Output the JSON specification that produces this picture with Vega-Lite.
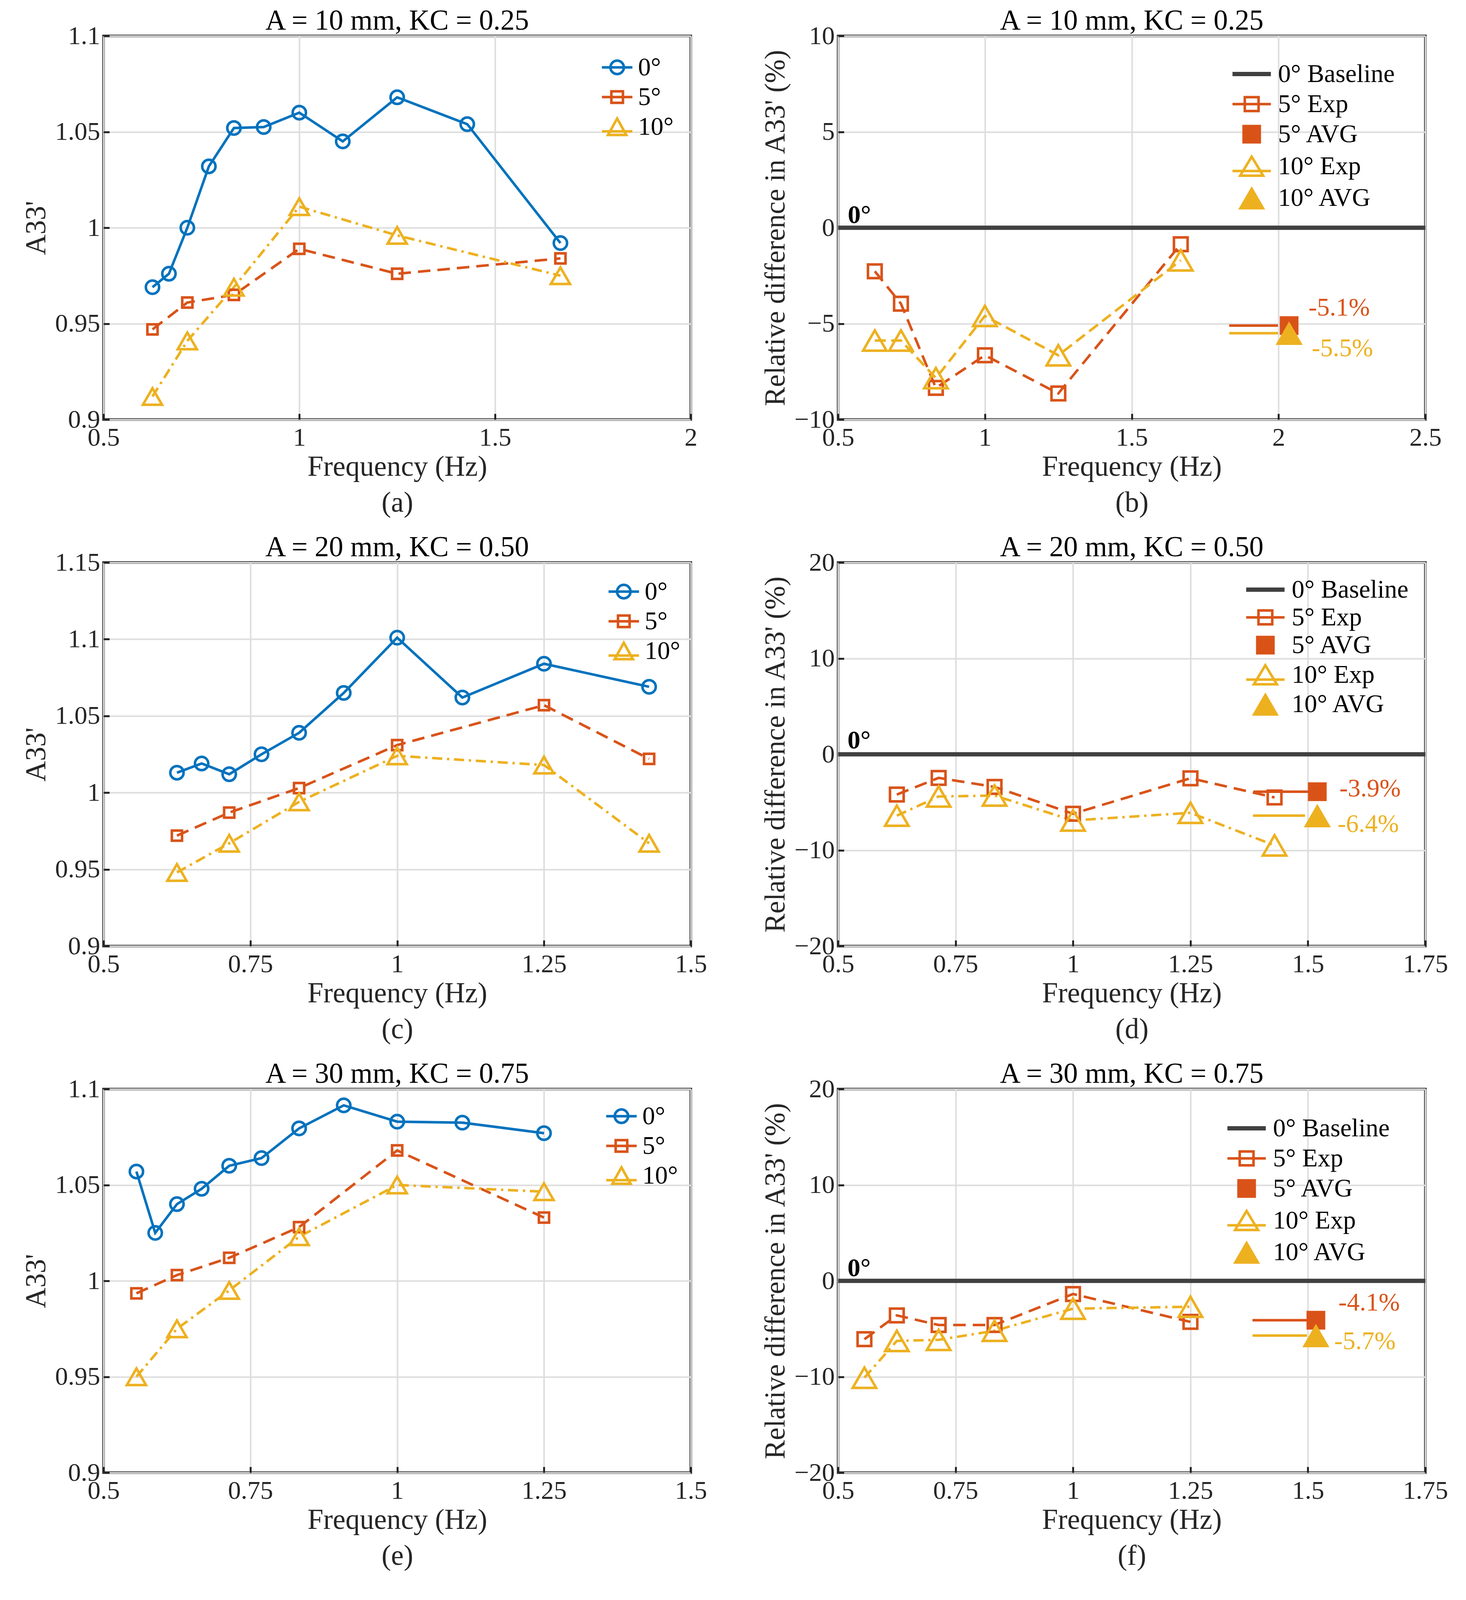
{
  "$schema": "https://vega.github.io/schema/vega-lite/v6.json",
  "background": "white",
  "padding": {"left": 54, "top": 14, "right": 30, "bottom": 20},
  "columns": 2,
  "spacing": {"row": 34, "column": 133},
  "resolve": {"scale": {"color": "independent"}, "legend": {"color": "independent"}},
  "datasets": {
    "a": [
      {"f": 0.625, "v": 0.969, "s": "0°"}, {"f": 0.667, "v": 0.976, "s": "0°"}, {"f": 0.714, "v": 1.0, "s": "0°"},
      {"f": 0.769, "v": 1.032, "s": "0°"}, {"f": 0.833, "v": 1.052, "s": "0°"}, {"f": 0.909, "v": 1.0525, "s": "0°"},
      {"f": 1.0, "v": 1.06, "s": "0°"}, {"f": 1.111, "v": 1.045, "s": "0°"}, {"f": 1.25, "v": 1.068, "s": "0°"},
      {"f": 1.429, "v": 1.054, "s": "0°"}, {"f": 1.667, "v": 0.992, "s": "0°"},
      {"f": 0.625, "v": 0.947, "s": "5°"}, {"f": 0.714, "v": 0.961, "s": "5°"}, {"f": 0.833, "v": 0.965, "s": "5°"},
      {"f": 1.0, "v": 0.989, "s": "5°"}, {"f": 1.25, "v": 0.976, "s": "5°"}, {"f": 1.667, "v": 0.984, "s": "5°"},
      {"f": 0.625, "v": 0.912, "s": "10°"}, {"f": 0.714, "v": 0.941, "s": "10°"}, {"f": 0.833, "v": 0.969, "s": "10°"},
      {"f": 1.0, "v": 1.011, "s": "10°"}, {"f": 1.25, "v": 0.996, "s": "10°"}, {"f": 1.667, "v": 0.975, "s": "10°"}
    ],
    "c": [
      {"f": 0.625, "v": 1.013, "s": "0°"}, {"f": 0.667, "v": 1.019, "s": "0°"}, {"f": 0.714, "v": 1.012, "s": "0°"},
      {"f": 0.769, "v": 1.025, "s": "0°"}, {"f": 0.833, "v": 1.039, "s": "0°"}, {"f": 0.909, "v": 1.065, "s": "0°"},
      {"f": 1.0, "v": 1.101, "s": "0°"}, {"f": 1.111, "v": 1.062, "s": "0°"}, {"f": 1.25, "v": 1.084, "s": "0°"},
      {"f": 1.429, "v": 1.069, "s": "0°"},
      {"f": 0.625, "v": 0.972, "s": "5°"}, {"f": 0.714, "v": 0.987, "s": "5°"}, {"f": 0.833, "v": 1.003, "s": "5°"},
      {"f": 1.0, "v": 1.031, "s": "5°"}, {"f": 1.25, "v": 1.057, "s": "5°"}, {"f": 1.429, "v": 1.022, "s": "5°"},
      {"f": 0.625, "v": 0.948, "s": "10°"}, {"f": 0.714, "v": 0.967, "s": "10°"}, {"f": 0.833, "v": 0.994, "s": "10°"},
      {"f": 1.0, "v": 1.024, "s": "10°"}, {"f": 1.25, "v": 1.018, "s": "10°"}, {"f": 1.429, "v": 0.967, "s": "10°"}
    ],
    "e": [
      {"f": 0.556, "v": 1.057, "s": "0°"}, {"f": 0.588, "v": 1.025, "s": "0°"}, {"f": 0.625, "v": 1.04, "s": "0°"},
      {"f": 0.667, "v": 1.048, "s": "0°"}, {"f": 0.714, "v": 1.06, "s": "0°"}, {"f": 0.769, "v": 1.064, "s": "0°"},
      {"f": 0.833, "v": 1.0795, "s": "0°"}, {"f": 0.909, "v": 1.0915, "s": "0°"}, {"f": 1.0, "v": 1.083, "s": "0°"},
      {"f": 1.111, "v": 1.0825, "s": "0°"}, {"f": 1.25, "v": 1.077, "s": "0°"},
      {"f": 0.556, "v": 0.9935, "s": "5°"}, {"f": 0.625, "v": 1.003, "s": "5°"}, {"f": 0.714, "v": 1.012, "s": "5°"},
      {"f": 0.833, "v": 1.028, "s": "5°"}, {"f": 1.0, "v": 1.068, "s": "5°"}, {"f": 1.25, "v": 1.033, "s": "5°"},
      {"f": 0.556, "v": 0.95, "s": "10°"}, {"f": 0.625, "v": 0.975, "s": "10°"}, {"f": 0.714, "v": 0.995, "s": "10°"},
      {"f": 0.833, "v": 1.023, "s": "10°"}, {"f": 1.0, "v": 1.05, "s": "10°"}, {"f": 1.25, "v": 1.0465, "s": "10°"}
    ],
    "b": [
      {"f": 0.625, "v": -2.27, "s": "5° Exp"}, {"f": 0.714, "v": -3.96, "s": "5° Exp"}, {"f": 0.833, "v": -8.35, "s": "5° Exp"},
      {"f": 1.0, "v": -6.65, "s": "5° Exp"}, {"f": 1.25, "v": -8.64, "s": "5° Exp"}, {"f": 1.667, "v": -0.86, "s": "5° Exp"},
      {"f": 0.625, "v": -5.88, "s": "10° Exp"}, {"f": 0.714, "v": -5.88, "s": "10° Exp"}, {"f": 0.833, "v": -7.84, "s": "10° Exp"},
      {"f": 1.0, "v": -4.6, "s": "10° Exp"}, {"f": 1.25, "v": -6.65, "s": "10° Exp"}, {"f": 1.667, "v": -1.7, "s": "10° Exp"}
    ],
    "d": [
      {"f": 0.625, "v": -4.2, "s": "5° Exp"}, {"f": 0.714, "v": -2.46, "s": "5° Exp"}, {"f": 0.833, "v": -3.4, "s": "5° Exp"},
      {"f": 1.0, "v": -6.2, "s": "5° Exp"}, {"f": 1.25, "v": -2.5, "s": "5° Exp"}, {"f": 1.429, "v": -4.5, "s": "5° Exp"},
      {"f": 0.625, "v": -6.4, "s": "10° Exp"}, {"f": 0.714, "v": -4.4, "s": "10° Exp"}, {"f": 0.833, "v": -4.3, "s": "10° Exp"},
      {"f": 1.0, "v": -6.9, "s": "10° Exp"}, {"f": 1.25, "v": -6.1, "s": "10° Exp"}, {"f": 1.429, "v": -9.5, "s": "10° Exp"}
    ],
    "f": [
      {"f": 0.556, "v": -6.08, "s": "5° Exp"}, {"f": 0.625, "v": -3.6, "s": "5° Exp"}, {"f": 0.714, "v": -4.6, "s": "5° Exp"},
      {"f": 0.833, "v": -4.6, "s": "5° Exp"}, {"f": 1.0, "v": -1.37, "s": "5° Exp"}, {"f": 1.25, "v": -4.28, "s": "5° Exp"},
      {"f": 0.556, "v": -10.1, "s": "10° Exp"}, {"f": 0.625, "v": -6.26, "s": "10° Exp"}, {"f": 0.714, "v": -6.15, "s": "10° Exp"},
      {"f": 0.833, "v": -5.2, "s": "10° Exp"}, {"f": 1.0, "v": -2.9, "s": "10° Exp"}, {"f": 1.25, "v": -2.7, "s": "10° Exp"}
    ],
    "bAvg": [
      {"f": 1.832, "f2": 1.998, "fm": 2.036, "v": -5.1, "s": "5° AVG", "tf": 2.102, "tv": -4.18, "t": "-5.1%"},
      {"f": 1.832, "f2": 1.998, "fm": 2.036, "v": -5.5, "s": "10° AVG", "tf": 2.113, "tv": -6.3, "t": "-5.5%"}
    ],
    "dAvg": [
      {"f": 1.384, "f2": 1.513, "fm": 1.52, "v": -3.9, "s": "5° AVG", "tf": 1.567, "tv": -3.6, "t": "-3.9%"},
      {"f": 1.383, "f2": 1.494, "fm": 1.52, "v": -6.4, "s": "10° AVG", "tf": 1.563, "tv": -7.3, "t": "-6.4%"}
    ],
    "fAvg": [
      {"f": 1.382, "f2": 1.498, "fm": 1.517, "v": -4.1, "s": "5° AVG", "tf": 1.565, "tv": -2.3, "t": "-4.1%"},
      {"f": 1.382, "f2": 1.498, "fm": 1.517, "v": -5.7, "s": "10° AVG", "tf": 1.556, "tv": -6.3, "t": "-5.7%"}
    ]
  },
  "concat": [
    {
      "title": "A = 10 mm, KC = 0.25",
      "width": 1503, "height": 982,
      "data": {"name": "a"},
      "layer": [
        {
          "transform": [{"filter": "datum.s === '0°'"}],
          "mark": {"type": "line", "strokeWidth": 6.5},
          "encoding": {
            "x": {"field": "f", "type": "quantitative", "scale": {"domain": [0.5, 2], "nice": false, "zero": false}, "axis": {"values": [0.5, 1, 1.5, 2], "title": ["Frequency (Hz)", "(a)"]}},
            "y": {"field": "v", "type": "quantitative", "scale": {"domain": [0.9, 1.1], "nice": false, "zero": false}, "axis": {"values": [0.9, 0.95, 1, 1.05, 1.1], "title": "A33'"}},
            "color": {"field": "s", "type": "nominal", "scale": {"domain": ["0°", "5°", "10°"], "range": ["#0072BD", "#D95319", "#EDB120"]},
              "legend": {"orient": "none", "legendX": 1272, "legendY": 38, "symbolSize": 6084, "labelOffset": 11, "rowPadding": 0,
                "encode": {"symbols": {"update": {
                  "shape": {"signal": "datum.value === '0°' ? 'M-1,0H1M-0.44,0A0.44,0.44,0,1,1,0.44,0A0.44,0.44,0,1,1,-0.44,0Z' : datum.value === '5°' ? 'M-1,0H1M-0.38,-0.38H0.38V0.38H-0.38Z' : 'M-1,0.3H1M0,-0.54L0.6,0.54H-0.6Z'"},
                  "fill": {"value": "transparent"}, "fillOpacity": {"value": 0}, "strokeWidth": {"value": 6.5}, "strokeDash": {"value": []}, "opacity": {"value": 1}}}}}}
          }
        },
        {"transform": [{"filter": "datum.s === '5°'"}], "mark": {"type": "line", "strokeWidth": 6.5, "strokeDash": [32, 18]},
          "encoding": {"x": {"field": "f", "type": "quantitative"}, "y": {"field": "v", "type": "quantitative"}, "color": {"field": "s", "type": "nominal"}}},
        {"transform": [{"filter": "datum.s === '10°'"}], "mark": {"type": "line", "strokeWidth": 6.5, "strokeDash": [26, 12, 6, 12]},
          "encoding": {"x": {"field": "f", "type": "quantitative"}, "y": {"field": "v", "type": "quantitative"}, "color": {"field": "s", "type": "nominal"}}},
        {"transform": [{"filter": "datum.s === '0°'"}], "mark": {"type": "point", "shape": "circle", "size": 1156, "filled": false, "opacity": 1, "strokeWidth": 6.5},
          "encoding": {"x": {"field": "f", "type": "quantitative"}, "y": {"field": "v", "type": "quantitative"}, "color": {"field": "s", "type": "nominal"}}},
        {"transform": [{"filter": "datum.s === '5°'"}], "mark": {"type": "point", "shape": "square", "size": 680, "filled": false, "opacity": 1, "strokeWidth": 6.5},
          "encoding": {"x": {"field": "f", "type": "quantitative"}, "y": {"field": "v", "type": "quantitative"}, "color": {"field": "s", "type": "nominal"}}},
        {"transform": [{"filter": "datum.s === '10°'"}], "mark": {"type": "point", "shape": "triangle-up", "size": 2400, "filled": false, "opacity": 1, "strokeWidth": 6.5},
          "encoding": {"x": {"field": "f", "type": "quantitative"}, "y": {"field": "v", "type": "quantitative"}, "color": {"field": "s", "type": "nominal"}}}
      ]
    },
    {
      "title": "A = 10 mm, KC = 0.25",
      "width": 1503, "height": 982,
      "layer": [
        {"data": {"values": [{}]}, "mark": {"type": "rule", "strokeWidth": 11, "color": "#404040"}, "encoding": {"y": {"datum": 0, "type": "quantitative"}}},
        {
          "data": {"name": "b"},
          "transform": [{"filter": "datum.s === '5° Exp'"}],
          "mark": {"type": "line", "strokeWidth": 6.5, "strokeDash": [32, 18]},
          "encoding": {
            "x": {"field": "f", "type": "quantitative", "scale": {"domain": [0.5, 2.5], "nice": false, "zero": false}, "axis": {"values": [0.5, 1, 1.5, 2, 2.5], "title": ["Frequency (Hz)", "(b)"]}},
            "y": {"field": "v", "type": "quantitative", "scale": {"domain": [-10, 10], "nice": false, "zero": false}, "axis": {"values": [-10, -5, 0, 5, 10], "title": "Relative difference in A33' (%)"}},
            "color": {"field": "s", "type": "nominal", "scale": {"domain": ["0° Baseline", "5° Exp", "5° AVG", "10° Exp", "10° AVG"], "range": ["#404040", "#D95319", "#D95319", "#EDB120", "#EDB120"]},
              "legend": {"orient": "none", "legendX": 1026, "legendY": 65, "symbolSize": 7056, "labelOffset": 35, "rowPadding": 11,
                "encode": {"symbols": {"update": {
                  "shape": {"signal": "datum.value === '0° Baseline' ? 'M-1.17,0H1.17' : datum.value === '5° Exp' ? 'M-1.17,0H1.17M-0.42,-0.42H0.42V0.42H-0.42Z' : datum.value === '5° AVG' ? 'M-0.57,-0.57H0.57V0.57H-0.57Z' : datum.value === '10° Exp' ? 'M-1.17,0.29H1.17M0,-0.58L0.7,0.58H-0.7Z' : 'M0,-0.71L0.82,0.71H-0.82Z'"},
                  "fill": {"signal": "datum.value === '5° AVG' ? '#D95319' : datum.value === '10° AVG' ? '#EDB120' : 'transparent'"},
                  "fillOpacity": {"signal": "(datum.value === '5° AVG' || datum.value === '10° AVG') ? 1 : 0"},
                  "strokeWidth": {"signal": "datum.value === '0° Baseline' ? 11 : (datum.value === '5° AVG' || datum.value === '10° AVG') ? 0 : 6.5"},
                  "strokeDash": {"value": []}, "opacity": {"value": 1}}}}}}
          }
        },
        {"data": {"name": "b"}, "transform": [{"filter": "datum.s === '10° Exp'"}], "mark": {"type": "line", "strokeWidth": 6.5, "strokeDash": [28, 14]},
          "encoding": {"x": {"field": "f", "type": "quantitative"}, "y": {"field": "v", "type": "quantitative"}, "color": {"field": "s", "type": "nominal"}}},
        {"data": {"name": "b"}, "transform": [{"filter": "datum.s === '5° Exp'"}], "mark": {"type": "point", "shape": "square", "size": 1225, "filled": false, "opacity": 1, "strokeWidth": 6.5},
          "encoding": {"x": {"field": "f", "type": "quantitative"}, "y": {"field": "v", "type": "quantitative"}, "color": {"field": "s", "type": "nominal"}}},
        {"data": {"name": "b"}, "transform": [{"filter": "datum.s === '10° Exp'"}], "mark": {"type": "point", "shape": "triangle-up", "size": 3600, "filled": false, "opacity": 1, "strokeWidth": 6.5},
          "encoding": {"x": {"field": "f", "type": "quantitative"}, "y": {"field": "v", "type": "quantitative"}, "color": {"field": "s", "type": "nominal"}}},
        {"data": {"name": "bAvg"}, "mark": {"type": "rule", "strokeWidth": 6.5},
          "encoding": {"x": {"field": "f", "type": "quantitative"}, "x2": {"field": "f2"}, "y": {"field": "v", "type": "quantitative"}, "color": {"field": "s", "type": "nominal"}}},
        {"data": {"name": "bAvg"}, "transform": [{"filter": "datum.s === '5° AVG'"}], "mark": {"type": "point", "shape": "square", "size": 2300, "filled": true, "opacity": 1},
          "encoding": {"x": {"field": "fm", "type": "quantitative"}, "y": {"field": "v", "type": "quantitative"}, "color": {"field": "s", "type": "nominal"}}},
        {"data": {"name": "bAvg"}, "transform": [{"filter": "datum.s === '10° AVG'"}], "mark": {"type": "point", "shape": "triangle-up", "size": 4800, "filled": true, "opacity": 1},
          "encoding": {"x": {"field": "fm", "type": "quantitative"}, "y": {"field": "v", "type": "quantitative"}, "color": {"field": "s", "type": "nominal"}}},
        {"data": {"name": "bAvg"}, "mark": {"type": "text", "align": "left", "baseline": "middle", "fontSize": 65, "font": "Liberation Serif"},
          "encoding": {"x": {"field": "tf", "type": "quantitative"}, "y": {"field": "tv", "type": "quantitative"}, "text": {"field": "t"}, "color": {"field": "s", "type": "nominal"}}},
        {"data": {"values": [{"f": 0.533, "v": 0.24, "t": "0°"}]}, "mark": {"type": "text", "align": "left", "baseline": "alphabetic", "fontSize": 66, "fontWeight": "bold", "color": "#000000", "font": "Liberation Serif"},
          "encoding": {"x": {"field": "f", "type": "quantitative"}, "y": {"field": "v", "type": "quantitative"}, "text": {"field": "t"}}}
      ]
    },
    {
      "title": "A = 20 mm, KC = 0.50",
      "width": 1503, "height": 982,
      "data": {"name": "c"},
      "layer": [
        {
          "transform": [{"filter": "datum.s === '0°'"}],
          "mark": {"type": "line", "strokeWidth": 6.5},
          "encoding": {
            "x": {"field": "f", "type": "quantitative", "scale": {"domain": [0.5, 1.5], "nice": false, "zero": false}, "axis": {"values": [0.5, 0.75, 1, 1.25, 1.5], "title": ["Frequency (Hz)", "(c)"]}},
            "y": {"field": "v", "type": "quantitative", "scale": {"domain": [0.9, 1.15], "nice": false, "zero": false}, "axis": {"values": [0.9, 0.95, 1, 1.05, 1.1, 1.15], "title": "A33'"}},
            "color": {"field": "s", "type": "nominal", "scale": {"domain": ["0°", "5°", "10°"], "range": ["#0072BD", "#D95319", "#EDB120"]},
              "legend": {"orient": "none", "legendX": 1289, "legendY": 32, "symbolSize": 6084, "labelOffset": 11, "rowPadding": 0,
                "encode": {"symbols": {"update": {
                  "shape": {"signal": "datum.value === '0°' ? 'M-1,0H1M-0.44,0A0.44,0.44,0,1,1,0.44,0A0.44,0.44,0,1,1,-0.44,0Z' : datum.value === '5°' ? 'M-1,0H1M-0.38,-0.38H0.38V0.38H-0.38Z' : 'M-1,0.3H1M0,-0.54L0.6,0.54H-0.6Z'"},
                  "fill": {"value": "transparent"}, "fillOpacity": {"value": 0}, "strokeWidth": {"value": 6.5}, "strokeDash": {"value": []}, "opacity": {"value": 1}}}}}}
          }
        },
        {"transform": [{"filter": "datum.s === '5°'"}], "mark": {"type": "line", "strokeWidth": 6.5, "strokeDash": [32, 18]},
          "encoding": {"x": {"field": "f", "type": "quantitative"}, "y": {"field": "v", "type": "quantitative"}, "color": {"field": "s", "type": "nominal"}}},
        {"transform": [{"filter": "datum.s === '10°'"}], "mark": {"type": "line", "strokeWidth": 6.5, "strokeDash": [26, 12, 6, 12]},
          "encoding": {"x": {"field": "f", "type": "quantitative"}, "y": {"field": "v", "type": "quantitative"}, "color": {"field": "s", "type": "nominal"}}},
        {"transform": [{"filter": "datum.s === '0°'"}], "mark": {"type": "point", "shape": "circle", "size": 1156, "filled": false, "opacity": 1, "strokeWidth": 6.5},
          "encoding": {"x": {"field": "f", "type": "quantitative"}, "y": {"field": "v", "type": "quantitative"}, "color": {"field": "s", "type": "nominal"}}},
        {"transform": [{"filter": "datum.s === '5°'"}], "mark": {"type": "point", "shape": "square", "size": 680, "filled": false, "opacity": 1, "strokeWidth": 6.5},
          "encoding": {"x": {"field": "f", "type": "quantitative"}, "y": {"field": "v", "type": "quantitative"}, "color": {"field": "s", "type": "nominal"}}},
        {"transform": [{"filter": "datum.s === '10°'"}], "mark": {"type": "point", "shape": "triangle-up", "size": 2400, "filled": false, "opacity": 1, "strokeWidth": 6.5},
          "encoding": {"x": {"field": "f", "type": "quantitative"}, "y": {"field": "v", "type": "quantitative"}, "color": {"field": "s", "type": "nominal"}}}
      ]
    },
    {
      "title": "A = 20 mm, KC = 0.50",
      "width": 1503, "height": 982,
      "layer": [
        {"data": {"values": [{}]}, "mark": {"type": "rule", "strokeWidth": 11, "color": "#404040"}, "encoding": {"y": {"datum": 0, "type": "quantitative"}}},
        {
          "data": {"name": "d"},
          "transform": [{"filter": "datum.s === '5° Exp'"}],
          "mark": {"type": "line", "strokeWidth": 6.5, "strokeDash": [32, 18]},
          "encoding": {
            "x": {"field": "f", "type": "quantitative", "scale": {"domain": [0.5, 1.75], "nice": false, "zero": false}, "axis": {"values": [0.5, 0.75, 1, 1.25, 1.5, 1.75], "title": ["Frequency (Hz)", "(d)"]}},
            "y": {"field": "v", "type": "quantitative", "scale": {"domain": [-20, 20], "nice": false, "zero": false}, "axis": {"values": [-20, -10, 0, 10, 20], "title": "Relative difference in A33' (%)"}},
            "color": {"field": "s", "type": "nominal", "scale": {"domain": ["0° Baseline", "5° Exp", "5° AVG", "10° Exp", "10° AVG"], "range": ["#404040", "#D95319", "#D95319", "#EDB120", "#EDB120"]},
              "legend": {"orient": "none", "legendX": 1061, "legendY": 37, "symbolSize": 7056, "labelOffset": 35, "rowPadding": 5,
                "encode": {"symbols": {"update": {
                  "shape": {"signal": "datum.value === '0° Baseline' ? 'M-1.17,0H1.17' : datum.value === '5° Exp' ? 'M-1.17,0H1.17M-0.42,-0.42H0.42V0.42H-0.42Z' : datum.value === '5° AVG' ? 'M-0.57,-0.57H0.57V0.57H-0.57Z' : datum.value === '10° Exp' ? 'M-1.17,0.29H1.17M0,-0.58L0.7,0.58H-0.7Z' : 'M0,-0.71L0.82,0.71H-0.82Z'"},
                  "fill": {"signal": "datum.value === '5° AVG' ? '#D95319' : datum.value === '10° AVG' ? '#EDB120' : 'transparent'"},
                  "fillOpacity": {"signal": "(datum.value === '5° AVG' || datum.value === '10° AVG') ? 1 : 0"},
                  "strokeWidth": {"signal": "datum.value === '0° Baseline' ? 11 : (datum.value === '5° AVG' || datum.value === '10° AVG') ? 0 : 6.5"},
                  "strokeDash": {"value": []}, "opacity": {"value": 1}}}}}}
          }
        },
        {"data": {"name": "d"}, "transform": [{"filter": "datum.s === '10° Exp'"}], "mark": {"type": "line", "strokeWidth": 6.5, "strokeDash": [26, 12, 6, 12]},
          "encoding": {"x": {"field": "f", "type": "quantitative"}, "y": {"field": "v", "type": "quantitative"}, "color": {"field": "s", "type": "nominal"}}},
        {"data": {"name": "d"}, "transform": [{"filter": "datum.s === '5° Exp'"}], "mark": {"type": "point", "shape": "square", "size": 1225, "filled": false, "opacity": 1, "strokeWidth": 6.5},
          "encoding": {"x": {"field": "f", "type": "quantitative"}, "y": {"field": "v", "type": "quantitative"}, "color": {"field": "s", "type": "nominal"}}},
        {"data": {"name": "d"}, "transform": [{"filter": "datum.s === '10° Exp'"}], "mark": {"type": "point", "shape": "triangle-up", "size": 3600, "filled": false, "opacity": 1, "strokeWidth": 6.5},
          "encoding": {"x": {"field": "f", "type": "quantitative"}, "y": {"field": "v", "type": "quantitative"}, "color": {"field": "s", "type": "nominal"}}},
        {"data": {"name": "dAvg"}, "mark": {"type": "rule", "strokeWidth": 6.5},
          "encoding": {"x": {"field": "f", "type": "quantitative"}, "x2": {"field": "f2"}, "y": {"field": "v", "type": "quantitative"}, "color": {"field": "s", "type": "nominal"}}},
        {"data": {"name": "dAvg"}, "transform": [{"filter": "datum.s === '5° AVG'"}], "mark": {"type": "point", "shape": "square", "size": 2300, "filled": true, "opacity": 1},
          "encoding": {"x": {"field": "fm", "type": "quantitative"}, "y": {"field": "v", "type": "quantitative"}, "color": {"field": "s", "type": "nominal"}}},
        {"data": {"name": "dAvg"}, "transform": [{"filter": "datum.s === '10° AVG'"}], "mark": {"type": "point", "shape": "triangle-up", "size": 4800, "filled": true, "opacity": 1},
          "encoding": {"x": {"field": "fm", "type": "quantitative"}, "y": {"field": "v", "type": "quantitative"}, "color": {"field": "s", "type": "nominal"}}},
        {"data": {"name": "dAvg"}, "mark": {"type": "text", "align": "left", "baseline": "middle", "fontSize": 65, "font": "Liberation Serif"},
          "encoding": {"x": {"field": "tf", "type": "quantitative"}, "y": {"field": "tv", "type": "quantitative"}, "text": {"field": "t"}, "color": {"field": "s", "type": "nominal"}}},
        {"data": {"values": [{"f": 0.52, "v": 0.6, "t": "0°"}]}, "mark": {"type": "text", "align": "left", "baseline": "alphabetic", "fontSize": 66, "fontWeight": "bold", "color": "#000000", "font": "Liberation Serif"},
          "encoding": {"x": {"field": "f", "type": "quantitative"}, "y": {"field": "v", "type": "quantitative"}, "text": {"field": "t"}}}
      ]
    },
    {
      "title": "A = 30 mm, KC = 0.75",
      "width": 1503, "height": 982,
      "data": {"name": "e"},
      "layer": [
        {
          "transform": [{"filter": "datum.s === '0°'"}],
          "mark": {"type": "line", "strokeWidth": 6.5},
          "encoding": {
            "x": {"field": "f", "type": "quantitative", "scale": {"domain": [0.5, 1.5], "nice": false, "zero": false}, "axis": {"values": [0.5, 0.75, 1, 1.25, 1.5], "title": ["Frequency (Hz)", "(e)"]}},
            "y": {"field": "v", "type": "quantitative", "scale": {"domain": [0.9, 1.1], "nice": false, "zero": false}, "axis": {"values": [0.9, 0.95, 1, 1.05, 1.1], "title": "A33'"}},
            "color": {"field": "s", "type": "nominal", "scale": {"domain": ["0°", "5°", "10°"], "range": ["#0072BD", "#D95319", "#EDB120"]},
              "legend": {"orient": "none", "legendX": 1283, "legendY": 27, "symbolSize": 6084, "labelOffset": 11, "rowPadding": 0,
                "encode": {"symbols": {"update": {
                  "shape": {"signal": "datum.value === '0°' ? 'M-1,0H1M-0.44,0A0.44,0.44,0,1,1,0.44,0A0.44,0.44,0,1,1,-0.44,0Z' : datum.value === '5°' ? 'M-1,0H1M-0.38,-0.38H0.38V0.38H-0.38Z' : 'M-1,0.3H1M0,-0.54L0.6,0.54H-0.6Z'"},
                  "fill": {"value": "transparent"}, "fillOpacity": {"value": 0}, "strokeWidth": {"value": 6.5}, "strokeDash": {"value": []}, "opacity": {"value": 1}}}}}}
          }
        },
        {"transform": [{"filter": "datum.s === '5°'"}], "mark": {"type": "line", "strokeWidth": 6.5, "strokeDash": [32, 18]},
          "encoding": {"x": {"field": "f", "type": "quantitative"}, "y": {"field": "v", "type": "quantitative"}, "color": {"field": "s", "type": "nominal"}}},
        {"transform": [{"filter": "datum.s === '10°'"}], "mark": {"type": "line", "strokeWidth": 6.5, "strokeDash": [26, 12, 6, 12]},
          "encoding": {"x": {"field": "f", "type": "quantitative"}, "y": {"field": "v", "type": "quantitative"}, "color": {"field": "s", "type": "nominal"}}},
        {"transform": [{"filter": "datum.s === '0°'"}], "mark": {"type": "point", "shape": "circle", "size": 1156, "filled": false, "opacity": 1, "strokeWidth": 6.5},
          "encoding": {"x": {"field": "f", "type": "quantitative"}, "y": {"field": "v", "type": "quantitative"}, "color": {"field": "s", "type": "nominal"}}},
        {"transform": [{"filter": "datum.s === '5°'"}], "mark": {"type": "point", "shape": "square", "size": 680, "filled": false, "opacity": 1, "strokeWidth": 6.5},
          "encoding": {"x": {"field": "f", "type": "quantitative"}, "y": {"field": "v", "type": "quantitative"}, "color": {"field": "s", "type": "nominal"}}},
        {"transform": [{"filter": "datum.s === '10°'"}], "mark": {"type": "point", "shape": "triangle-up", "size": 2400, "filled": false, "opacity": 1, "strokeWidth": 6.5},
          "encoding": {"x": {"field": "f", "type": "quantitative"}, "y": {"field": "v", "type": "quantitative"}, "color": {"field": "s", "type": "nominal"}}}
      ]
    },
    {
      "title": "A = 30 mm, KC = 0.75",
      "width": 1503, "height": 982,
      "layer": [
        {"data": {"values": [{}]}, "mark": {"type": "rule", "strokeWidth": 11, "color": "#404040"}, "encoding": {"y": {"datum": 0, "type": "quantitative"}}},
        {
          "data": {"name": "f"},
          "transform": [{"filter": "datum.s === '5° Exp'"}],
          "mark": {"type": "line", "strokeWidth": 6.5, "strokeDash": [32, 18]},
          "encoding": {
            "x": {"field": "f", "type": "quantitative", "scale": {"domain": [0.5, 1.75], "nice": false, "zero": false}, "axis": {"values": [0.5, 0.75, 1, 1.25, 1.5, 1.75], "title": ["Frequency (Hz)", "(f)"]}},
            "y": {"field": "v", "type": "quantitative", "scale": {"domain": [-20, 20], "nice": false, "zero": false}, "axis": {"values": [-20, -10, 0, 10, 20], "title": "Relative difference in A33' (%)"}},
            "color": {"field": "s", "type": "nominal", "scale": {"domain": ["0° Baseline", "5° Exp", "5° AVG", "10° Exp", "10° AVG"], "range": ["#404040", "#D95319", "#D95319", "#EDB120", "#EDB120"]},
              "legend": {"orient": "none", "legendX": 1013, "legendY": 68, "symbolSize": 7056, "labelOffset": 35, "rowPadding": 11,
                "encode": {"symbols": {"update": {
                  "shape": {"signal": "datum.value === '0° Baseline' ? 'M-1.17,0H1.17' : datum.value === '5° Exp' ? 'M-1.17,0H1.17M-0.42,-0.42H0.42V0.42H-0.42Z' : datum.value === '5° AVG' ? 'M-0.57,-0.57H0.57V0.57H-0.57Z' : datum.value === '10° Exp' ? 'M-1.17,0.29H1.17M0,-0.58L0.7,0.58H-0.7Z' : 'M0,-0.71L0.82,0.71H-0.82Z'"},
                  "fill": {"signal": "datum.value === '5° AVG' ? '#D95319' : datum.value === '10° AVG' ? '#EDB120' : 'transparent'"},
                  "fillOpacity": {"signal": "(datum.value === '5° AVG' || datum.value === '10° AVG') ? 1 : 0"},
                  "strokeWidth": {"signal": "datum.value === '0° Baseline' ? 11 : (datum.value === '5° AVG' || datum.value === '10° AVG') ? 0 : 6.5"},
                  "strokeDash": {"value": []}, "opacity": {"value": 1}}}}}}
          }
        },
        {"data": {"name": "f"}, "transform": [{"filter": "datum.s === '10° Exp'"}], "mark": {"type": "line", "strokeWidth": 6.5, "strokeDash": [26, 12, 6, 12]},
          "encoding": {"x": {"field": "f", "type": "quantitative"}, "y": {"field": "v", "type": "quantitative"}, "color": {"field": "s", "type": "nominal"}}},
        {"data": {"name": "f"}, "transform": [{"filter": "datum.s === '5° Exp'"}], "mark": {"type": "point", "shape": "square", "size": 1225, "filled": false, "opacity": 1, "strokeWidth": 6.5},
          "encoding": {"x": {"field": "f", "type": "quantitative"}, "y": {"field": "v", "type": "quantitative"}, "color": {"field": "s", "type": "nominal"}}},
        {"data": {"name": "f"}, "transform": [{"filter": "datum.s === '10° Exp'"}], "mark": {"type": "point", "shape": "triangle-up", "size": 3600, "filled": false, "opacity": 1, "strokeWidth": 6.5},
          "encoding": {"x": {"field": "f", "type": "quantitative"}, "y": {"field": "v", "type": "quantitative"}, "color": {"field": "s", "type": "nominal"}}},
        {"data": {"name": "fAvg"}, "mark": {"type": "rule", "strokeWidth": 6.5},
          "encoding": {"x": {"field": "f", "type": "quantitative"}, "x2": {"field": "f2"}, "y": {"field": "v", "type": "quantitative"}, "color": {"field": "s", "type": "nominal"}}},
        {"data": {"name": "fAvg"}, "transform": [{"filter": "datum.s === '5° AVG'"}], "mark": {"type": "point", "shape": "square", "size": 2300, "filled": true, "opacity": 1},
          "encoding": {"x": {"field": "fm", "type": "quantitative"}, "y": {"field": "v", "type": "quantitative"}, "color": {"field": "s", "type": "nominal"}}},
        {"data": {"name": "fAvg"}, "transform": [{"filter": "datum.s === '10° AVG'"}], "mark": {"type": "point", "shape": "triangle-up", "size": 4800, "filled": true, "opacity": 1},
          "encoding": {"x": {"field": "fm", "type": "quantitative"}, "y": {"field": "v", "type": "quantitative"}, "color": {"field": "s", "type": "nominal"}}},
        {"data": {"name": "fAvg"}, "mark": {"type": "text", "align": "left", "baseline": "middle", "fontSize": 65, "font": "Liberation Serif"},
          "encoding": {"x": {"field": "tf", "type": "quantitative"}, "y": {"field": "tv", "type": "quantitative"}, "text": {"field": "t"}, "color": {"field": "s", "type": "nominal"}}},
        {"data": {"values": [{"f": 0.52, "v": 0.5, "t": "0°"}]}, "mark": {"type": "text", "align": "left", "baseline": "alphabetic", "fontSize": 66, "fontWeight": "bold", "color": "#000000", "font": "Liberation Serif"},
          "encoding": {"x": {"field": "f", "type": "quantitative"}, "y": {"field": "v", "type": "quantitative"}, "text": {"field": "t"}}}
      ]
    }
  ],
  "config": {
    "font": "Liberation Serif",
    "view": {"stroke": "#262626", "strokeWidth": 6.5},
    "title": {"font": "Liberation Serif", "fontSize": 73, "fontWeight": "normal", "color": "#000000", "offset": -32},
    "axis": {
      "labelFont": "Liberation Serif", "titleFont": "Liberation Serif",
      "labelFontSize": 66, "titleFontSize": 73, "titleFontWeight": "normal",
      "labelColor": "#262626", "titleColor": "#262626",
      "domain": false, "grid": true, "gridColor": "#dedede", "gridWidth": 4,
      "ticks": true, "tickColor": "#262626", "tickSize": -15, "tickWidth": 5,
      "labelPadding": 24, "titlePadding": 10, "labelFlush": false, "labelOverlap": false,
      "labelExpr": "datum.value < 0 ? '−' + (-datum.value) : '' + datum.value"
    },
    "axisX": {"labelPadding": 29, "titlePadding": 6, "titleLineHeight": 92},
    "legend": {"title": null, "labelFontSize": 65, "labelColor": "#000000", "padding": 0, "labelFont": "Liberation Serif", "labelLimit": 1000}
  }
}
